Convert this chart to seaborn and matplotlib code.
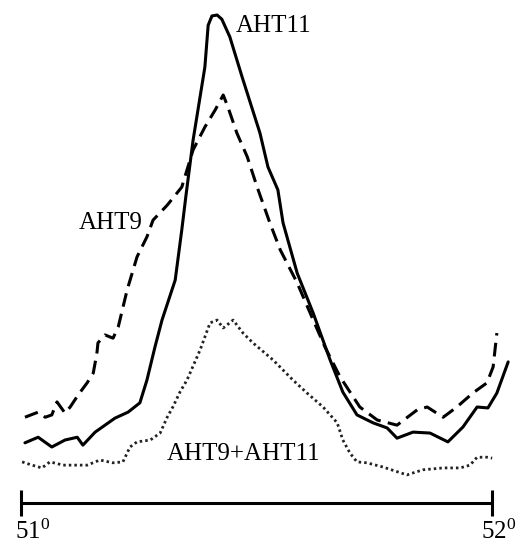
import matplotlib
matplotlib.use("Agg")
import matplotlib.pyplot as plt
import seaborn as sns

# 2-theta position (degrees) and intensity (arbitrary units)
aht11_deg = [51.009, 51.037, 51.066, 51.094, 51.120, 51.132, 51.158, 51.200, 51.228, 51.253,
             51.268, 51.285, 51.300, 51.328, 51.342, 51.351, 51.366, 51.391, 51.398, 51.406,
             51.417, 51.427, 51.444, 51.470, 51.508, 51.525, 51.546, 51.557, 51.587, 51.621,
             51.657, 51.684, 51.714, 51.748, 51.778, 51.799, 51.833, 51.869, 51.907, 51.939,
             51.969, 51.992, 52.011, 52.035]
aht11_int = [8.0, 9.2, 7.1, 8.6, 9.2, 7.5, 10.3, 13.3, 14.6, 16.6,
             21.5, 28.6, 34.4, 43.0, 53.8, 61.3, 73.1, 88.8, 97.8, 99.8,
             100.0, 99.1, 95.3, 86.7, 74.6, 67.3, 62.4, 55.3, 44.5, 35.9,
             25.8, 18.9, 14.0, 12.3, 11.2, 9.0, 10.3, 10.1, 8.2, 11.4,
             15.7, 15.5, 18.7, 25.4]

aht9_deg = [51.009, 51.037, 51.052, 51.066, 51.077, 51.094, 51.105, 51.122, 51.141, 51.154,
            51.158, 51.162, 51.164, 51.179, 51.196, 51.207, 51.226, 51.247, 51.268, 51.281,
            51.311, 51.342, 51.366, 51.391, 51.413, 51.430, 51.440, 51.459, 51.481, 51.502,
            51.529, 51.551, 51.587, 51.621, 51.646, 51.678, 51.720, 51.757, 51.799, 51.842,
            51.863, 51.897, 51.926, 51.960, 51.990, 52.003, 52.011]
aht9_int = [13.5, 14.6, 13.5, 14.0, 16.8, 14.4, 15.7, 18.3, 20.9, 23.0,
            25.2, 27.5, 29.5, 31.2, 30.5, 32.9, 40.9, 48.0, 52.3, 55.9,
            59.1, 63.0, 71.0, 75.9, 79.6, 82.8, 80.2, 74.6, 69.5, 63.0,
            55.3, 49.5, 42.4, 34.4, 28.6, 22.2, 15.7, 12.9, 11.8, 15.1,
            15.7, 13.5, 15.7, 18.7, 20.9, 24.3, 31.6]

mix_deg = [51.003, 51.024, 51.045, 51.062, 51.090, 51.141, 51.168, 51.196, 51.217, 51.232,
           51.247, 51.275, 51.296, 51.311, 51.323, 51.338, 51.353, 51.381, 51.402, 51.417,
           51.430, 51.451, 51.472, 51.493, 51.536, 51.578, 51.608, 51.642, 51.672, 51.684,
           51.699, 51.714, 51.735, 51.769, 51.820, 51.854, 51.897, 51.933, 51.954, 51.969,
           51.990, 52.001]
mix_int = [3.9, 3.2, 2.6, 3.9, 3.2, 3.2, 4.3, 3.7, 3.9, 7.1,
           8.2, 8.6, 10.1, 13.5, 15.7, 18.9, 21.5, 28.0, 33.8, 34.4,
           32.7, 34.4, 31.6, 29.5, 25.8, 21.5, 18.7, 15.7, 12.3, 8.6,
           5.8, 3.9, 3.7, 2.8, 1.1, 2.2, 2.6, 2.6, 3.2, 4.9,
           4.9, 4.7]

scale_ends = [51.0, 52.0]
scale_labels = [r"51$^{0}$", r"52$^{0}$"]

sns.set_theme(style="white")
plt.rcParams["font.family"] = ["Liberation Serif", "DejaVu Serif"]
plt.rcParams["mathtext.fontset"] = "custom"
plt.rcParams["mathtext.rm"] = "Liberation Serif"
plt.rcParams["mathtext.it"] = "Liberation Serif:italic"

fig = plt.figure(figsize=(5.32, 5.44), dpi=100)
ax = fig.add_axes([0, 0, 1, 1])

sns.lineplot(x=aht11_deg, y=aht11_int, ax=ax, color="black", lw=2.2,
             sort=False, estimator=None)
sns.lineplot(x=aht9_deg, y=aht9_int, ax=ax, color="black", lw=2.2,
             sort=False, estimator=None).lines[-1].set_dashes((4.5, 2.4))
sns.lineplot(x=mix_deg, y=mix_int, ax=ax, color="#222222", lw=2.0,
             sort=False, estimator=None).lines[-1].set_dashes((0.9, 1.1))

# scale bar 51 deg - 52 deg
bar_y = -4.95
ax.plot(scale_ends, [bar_y, bar_y], color="black", lw=2.2, solid_capstyle="butt")
ax.vlines(scale_ends, bar_y - 2.7, bar_y + 2.7, color="black", lw=2.2)
label_dx = [-0.012, -0.022]
for xd, dx, lab in zip(scale_ends, label_dx, scale_labels):
    ax.text(xd + dx, -12.7, lab, ha="left", va="baseline", fontsize=18, color="black")

ax.text(51.536, 97.6, "AHT11", ha="center", va="center", fontsize=18, color="black")
ax.text(51.192, 55.3, "AHT9", ha="center", va="center", fontsize=18, color="black")
ax.text(51.474, 5.6, "AHT9+AHT11", ha="center", va="center", fontsize=18, color="black")

ax.set_xlim(50.956, 52.0856)
ax.set_ylim(-13.76, 103.23)
ax.axis("off")

fig.savefig("out.png", dpi=100, facecolor="white")
